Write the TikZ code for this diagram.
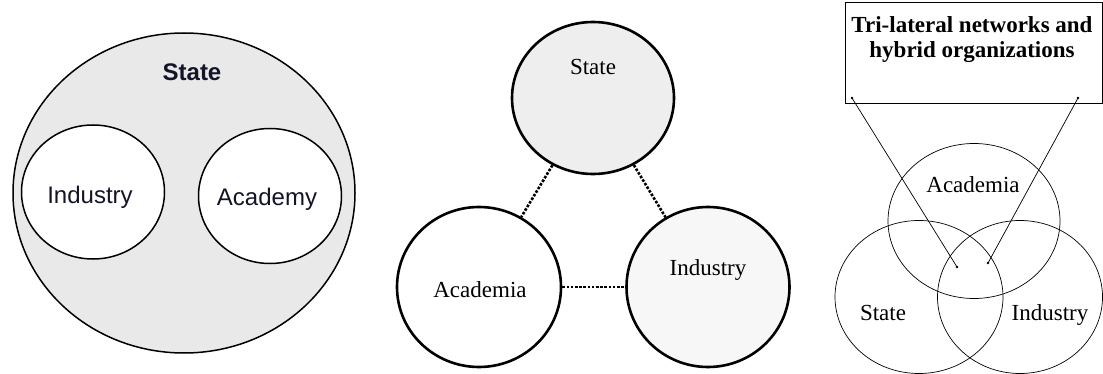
\documentclass[tikz,border=0pt]{standalone}
\usepackage{fontspec}
\setmainfont{Liberation Serif}
\newfontfamily\arialfont{Liberation Sans}
\usetikzlibrary{shapes.geometric}
\definecolor{stategray}{RGB}{233,233,233}
\definecolor{lightgray}{RGB}{238,238,238}
\definecolor{palegray}{RGB}{247,247,247}
\definecolor{inkblue}{RGB}{20,20,40}
\tikzset{
  blob/.style={ellipse,draw,inner sep=0pt},
  bigtext/.style={font=\fontsize{23}{27}\selectfont},
  tie/.style={line width=2.6pt,line cap=butt,dash pattern=on 2.6pt off 1.6pt},
}

\begin{document}
\begin{tikzpicture}[x=1pt,y=-1pt]
    \useasboundingbox (0,0) rectangle (1103,374);
    % state containing the other two
    \node[blob,line width=1.5pt,fill=stategray,minimum width=342,minimum height=320] (st1) at (184,193) {};
    \node[blob,line width=1.5pt,fill=white,minimum width=143,minimum height=134] (in1) at (93,192) {};
    \node[blob,line width=1.5pt,fill=white,minimum width=143,minimum height=135] (ac1) at (270,196) {};
    \node[font=\fontsize{24}{28}\selectfont,text=inkblue] at (192,72) {\arialfont\bfseries State};
    \node[font=\fontsize{24}{28}\selectfont,text=inkblue] at (90,197) {\arialfont Industry};
    \node[font=\fontsize{24}{28}\selectfont,text=inkblue] at (267,199) {\arialfont Academy};
    % separate spheres
    \node[blob,line width=2.6pt,fill=lightgray,minimum width=162,minimum height=152] (st2) at (593,98) {};
    \node[blob,line width=2.6pt,fill=white,minimum width=164,minimum height=160] (ac2) at (479,287) {};
    \node[blob,line width=2.6pt,fill=palegray,minimum width=163,minimum height=160] (in2) at (708,287) {};
    \draw[tie] (st2) -- (ac2);
    \draw[tie] (st2) -- (in2);
    \draw[tie] (ac2) -- (in2);
    \node[bigtext] at (593,67) {State};
    \node[bigtext] at (480,290) {Academia};
    \node[bigtext] at (708,270) {Industry};
    % overlapping spheres
    \node[blob,line width=0.7pt,minimum width=172,minimum height=155] (ac3) at (974,221) {};
    \node[blob,line width=0.7pt,minimum width=168,minimum height=153] (st3) at (919,297) {};
    \node[blob,line width=0.7pt,minimum width=165,minimum height=153] (in3) at (1020,297) {};
    \node[draw,line width=0.7pt,minimum width=257,minimum height=101,anchor=north west] (box) at (845,2) {};
    \node[bigtext,align=center,font=\fontsize{23}{25}\selectfont\bfseries] (title) at (972,40) {Tri-lateral networks and\\hybrid organizations};
    \node[bigtext] at (973,185) {Academia};
    \node[bigtext] at (883,313) {State};
    \node[bigtext] at (1050,315) {Industry};
    \coordinate (lt) at (852,98);
    \coordinate (rt) at (1078,98);
    \coordinate (lb) at (957,267);
    \coordinate (rb) at (988,263);
    \draw[line width=0.7pt] (lt) -- (lb);
    \draw[line width=0.7pt] (rt) -- (rb);
    \foreach \p in {lt,rt,lb,rb}
      \fill (\p) circle (1.3);
  \end{tikzpicture}
\end{document}
